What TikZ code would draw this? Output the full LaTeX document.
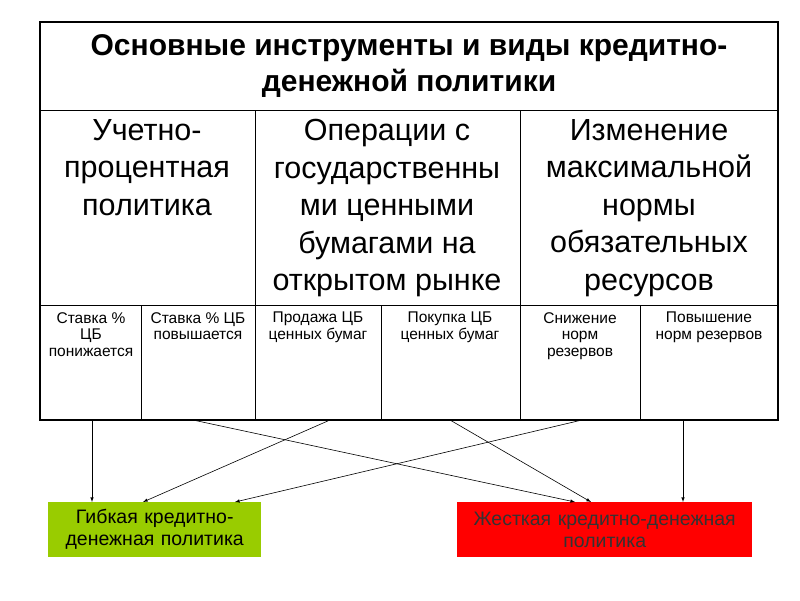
\documentclass[tikz,border=0pt]{standalone}
\usepackage{fontspec}
\setmainfont{Liberation Sans}
\begin{document}
\begin{tikzpicture}[x=1pt,y=-1pt,
 big/.style={anchor=north,align=center,font=\fontsize{30.5}{37.5}\selectfont,inner sep=0},
 small/.style={anchor=north,align=center,font=\fontsize{15.5}{16.5}\selectfont,inner sep=0},
 pol/.style={anchor=north west,minimum height=55,align=center,inner sep=2,font=\fontsize{19.5}{22}\selectfont},
 arr/.style={-latex,line width=0.6}]
\useasboundingbox (0,0) rectangle (800,600);
\fill[white] (0,0) rectangle (800,600);
% table
\draw[line width=0.8] (40,110) -- (778,110);
\draw[line width=0.8] (40,305) -- (778,305);
\draw[line width=0.8] (255,110) -- (255,420) (520,110) -- (520,420);
\draw[line width=0.8] (141,305) -- (141,420) (381,305) -- (381,420) (640,305) -- (640,420);
\draw[line width=2] (40,22) rectangle (778,420);
\node[anchor=north,align=center,inner sep=0,font=\bfseries\fontsize{30}{36}\selectfont] (t) at (409,34) {Основные инструменты и виды кредитно-\\денежной политики};
\node[big] (h1) at (147,119) {Учетно-\\процентная\\политика};
\node[big] (h2) at (387,119) {Операции с\\государственны\\ми ценными\\бумагами на\\открытом рынке};
\node[big] (h3) at (649,119) {Изменение\\максимальной\\нормы\\обязательных\\ресурсов};
\node[small] (c1) at (91,312) {Ставка \%\\ЦБ\\понижается};
\node[small] (c2) at (198,312) {Ставка \% ЦБ\\повышается};
\node[small] (c3) at (318,312) {Продажа ЦБ\\ценных бумаг};
\node[small] (c4) at (450,312) {Покупка ЦБ\\ценных бумаг};
\node[small] (c5) at (580,312) {Снижение\\норм\\резервов};
\node[small] (c6) at (709,312) {Повышение\\норм резервов};
% bottom boxes
\node[pol,fill={rgb,255:red,153;green,204;blue,0},minimum width=213,text width=205] (g) at (48,502) {Гибкая кредитно-\\денежная политика};
\node[pol,fill=red,minimum width=295,text width=288,text=black!80] (r) at (457,502) {Жесткая кредитно-денежная\\политика};
\coordinate (s1) at (92,420); \coordinate (s2) at (193,420); \coordinate (s3) at (330,420);
\coordinate (s4) at (450,420); \coordinate (s5) at (582,420); \coordinate (s6) at (683,420);
\draw[arr] (s1) -- (g.north west -| s1);
\draw[arr] (s3) -- (143,502);
\draw[arr] (s5) -- (235,502);
\draw[arr] (s2) -- (575,502);
\draw[arr] (s4) -- (591,502);
\draw[arr] (s6) -- (r.north west -| s6);
\end{tikzpicture}
\end{document}
